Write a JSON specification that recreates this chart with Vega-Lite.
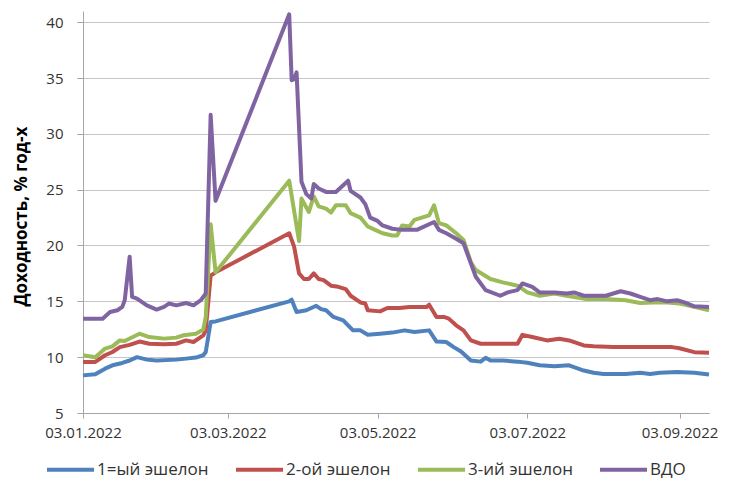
{
  "$schema": "https://vega.github.io/schema/vega-lite/v6.json",
  "width": 626,
  "height": 402,
  "autosize": {"type": "none"},
  "padding": {"left": 83, "top": 11, "right": 25, "bottom": 69},
  "background": "white",
  "config": {"font": "Open Sans", "view": {"stroke": null}},
  "data": {
    "format": {"parse": {"d": "date:'%Y-%m-%d'"}},
    "values": [
      {"s":"1=ый эшелон","d":"2022-01-03","v":8.37},
      {"s":"1=ый эшелон","d":"2022-01-08","v":8.47},
      {"s":"1=ый эшелон","d":"2022-01-12","v":8.97},
      {"s":"1=ый эшелон","d":"2022-01-15","v":9.27},
      {"s":"1=ый эшелон","d":"2022-01-19","v":9.48},
      {"s":"1=ый эшелон","d":"2022-01-22","v":9.7},
      {"s":"1=ый эшелон","d":"2022-01-25","v":10.0},
      {"s":"1=ый эшелон","d":"2022-01-29","v":9.78},
      {"s":"1=ый эшелон","d":"2022-02-02","v":9.7},
      {"s":"1=ый эшелон","d":"2022-02-10","v":9.78},
      {"s":"1=ый эшелон","d":"2022-02-14","v":9.87},
      {"s":"1=ый эшелон","d":"2022-02-18","v":9.96},
      {"s":"1=ый эшелон","d":"2022-02-21","v":10.17},
      {"s":"1=ый эшелон","d":"2022-02-22","v":10.46},
      {"s":"1=ый эшелон","d":"2022-02-24","v":13.15},
      {"s":"1=ый эшелон","d":"2022-02-26","v":13.2},
      {"s":"1=ый эшелон","d":"2022-03-28","v":15.0},
      {"s":"1=ый эшелон","d":"2022-03-29","v":15.15},
      {"s":"1=ый эшелон","d":"2022-03-31","v":14.05},
      {"s":"1=ый эшелон","d":"2022-04-04","v":14.2},
      {"s":"1=ый эшелон","d":"2022-04-08","v":14.6},
      {"s":"1=ый эшелон","d":"2022-04-10","v":14.3},
      {"s":"1=ый эшелон","d":"2022-04-12","v":14.2},
      {"s":"1=ый эшелон","d":"2022-04-15","v":13.6},
      {"s":"1=ый эшелон","d":"2022-04-19","v":13.3},
      {"s":"1=ый эшелон","d":"2022-04-23","v":12.4},
      {"s":"1=ый эшелон","d":"2022-04-26","v":12.4},
      {"s":"1=ый эшелон","d":"2022-04-29","v":12.0},
      {"s":"1=ый эшелон","d":"2022-05-04","v":12.1},
      {"s":"1=ый эшелон","d":"2022-05-09","v":12.2},
      {"s":"1=ый эшелон","d":"2022-05-14","v":12.4},
      {"s":"1=ый эшелон","d":"2022-05-18","v":12.25},
      {"s":"1=ый эшелон","d":"2022-05-24","v":12.4},
      {"s":"1=ый эшелон","d":"2022-05-27","v":11.4},
      {"s":"1=ый эшелон","d":"2022-05-31","v":11.35},
      {"s":"1=ый эшелон","d":"2022-06-01","v":11.2},
      {"s":"1=ый эшелон","d":"2022-06-03","v":10.9},
      {"s":"1=ый эшелон","d":"2022-06-06","v":10.5},
      {"s":"1=ый эшелон","d":"2022-06-10","v":9.7},
      {"s":"1=ый эшелон","d":"2022-06-14","v":9.6},
      {"s":"1=ый эшелон","d":"2022-06-16","v":9.95},
      {"s":"1=ый эшелон","d":"2022-06-18","v":9.7},
      {"s":"1=ый эшелон","d":"2022-06-23","v":9.7},
      {"s":"1=ый эшелон","d":"2022-06-29","v":9.6},
      {"s":"1=ый эшелон","d":"2022-07-03","v":9.5},
      {"s":"1=ый эшелон","d":"2022-07-08","v":9.27},
      {"s":"1=ый эшелон","d":"2022-07-14","v":9.18},
      {"s":"1=ый эшелон","d":"2022-07-20","v":9.27},
      {"s":"1=ый эшелон","d":"2022-07-22","v":9.1},
      {"s":"1=ый эшелон","d":"2022-07-26","v":8.8},
      {"s":"1=ый эшелон","d":"2022-07-30","v":8.6},
      {"s":"1=ый эшелон","d":"2022-08-03","v":8.5},
      {"s":"1=ый эшелон","d":"2022-08-12","v":8.5},
      {"s":"1=ый эшелон","d":"2022-08-18","v":8.6},
      {"s":"1=ый эшелон","d":"2022-08-22","v":8.5},
      {"s":"1=ый эшелон","d":"2022-08-26","v":8.6},
      {"s":"1=ый эшелон","d":"2022-09-02","v":8.67},
      {"s":"1=ый эшелон","d":"2022-09-09","v":8.6},
      {"s":"1=ый эшелон","d":"2022-09-15","v":8.45},

      {"s":"2-ой эшелон","d":"2022-01-03","v":9.57},
      {"s":"2-ой эшелон","d":"2022-01-08","v":9.57},
      {"s":"2-ой эшелон","d":"2022-01-12","v":10.17},
      {"s":"2-ой эшелон","d":"2022-01-15","v":10.46},
      {"s":"2-ой эшелон","d":"2022-01-18","v":10.9},
      {"s":"2-ой эшелон","d":"2022-01-22","v":11.1},
      {"s":"2-ой эшелон","d":"2022-01-26","v":11.4},
      {"s":"2-ой эшелон","d":"2022-01-30","v":11.2},
      {"s":"2-ой эшелон","d":"2022-02-05","v":11.15},
      {"s":"2-ой эшелон","d":"2022-02-10","v":11.2},
      {"s":"2-ой эшелон","d":"2022-02-14","v":11.5},
      {"s":"2-ой эшелон","d":"2022-02-17","v":11.36},
      {"s":"2-ой эшелон","d":"2022-02-21","v":11.96},
      {"s":"2-ой эшелон","d":"2022-02-22","v":12.4},
      {"s":"2-ой эшелон","d":"2022-02-24","v":17.3},
      {"s":"2-ой эшелон","d":"2022-02-26","v":17.6},
      {"s":"2-ой эшелон","d":"2022-03-28","v":21.1},
      {"s":"2-ой эшелон","d":"2022-03-30","v":19.9},
      {"s":"2-ой эшелон","d":"2022-04-01","v":17.5},
      {"s":"2-ой эшелон","d":"2022-04-03","v":17.0},
      {"s":"2-ой эшелон","d":"2022-04-05","v":17.0},
      {"s":"2-ой эшелон","d":"2022-04-07","v":17.5},
      {"s":"2-ой эшелон","d":"2022-04-09","v":17.0},
      {"s":"2-ой эшелон","d":"2022-04-11","v":16.9},
      {"s":"2-ой эшелон","d":"2022-04-14","v":16.4},
      {"s":"2-ой эшелон","d":"2022-04-17","v":16.3},
      {"s":"2-ой эшелон","d":"2022-04-20","v":16.1},
      {"s":"2-ой эшелон","d":"2022-04-22","v":15.5},
      {"s":"2-ой эшелон","d":"2022-04-26","v":14.9},
      {"s":"2-ой эшелон","d":"2022-04-28","v":14.8},
      {"s":"2-ой эшелон","d":"2022-04-29","v":14.2},
      {"s":"2-ой эшелон","d":"2022-05-04","v":14.1},
      {"s":"2-ой эшелон","d":"2022-05-07","v":14.4},
      {"s":"2-ой эшелон","d":"2022-05-12","v":14.4},
      {"s":"2-ой эшелон","d":"2022-05-16","v":14.5},
      {"s":"2-ой эшелон","d":"2022-05-23","v":14.5},
      {"s":"2-ой эшелон","d":"2022-05-24","v":14.7},
      {"s":"2-ой эшелон","d":"2022-05-27","v":13.6},
      {"s":"2-ой эшелон","d":"2022-05-30","v":13.6},
      {"s":"2-ой эшелон","d":"2022-06-01","v":13.45},
      {"s":"2-ой эшелон","d":"2022-06-04","v":12.85},
      {"s":"2-ой эшелон","d":"2022-06-07","v":12.4},
      {"s":"2-ой эшелон","d":"2022-06-10","v":11.5},
      {"s":"2-ой эшелон","d":"2022-06-14","v":11.2},
      {"s":"2-ой эшелон","d":"2022-06-22","v":11.2},
      {"s":"2-ой эшелон","d":"2022-06-29","v":11.2},
      {"s":"2-ой эшелон","d":"2022-07-01","v":12.0},
      {"s":"2-ой эшелон","d":"2022-07-05","v":11.8},
      {"s":"2-ой эшелон","d":"2022-07-11","v":11.5},
      {"s":"2-ой эшелон","d":"2022-07-16","v":11.65},
      {"s":"2-ой эшелон","d":"2022-07-20","v":11.5},
      {"s":"2-ой эшелон","d":"2022-07-26","v":11.05},
      {"s":"2-ой эшелон","d":"2022-07-30","v":10.97},
      {"s":"2-ой эшелон","d":"2022-08-07","v":10.9},
      {"s":"2-ой эшелон","d":"2022-08-31","v":10.9},
      {"s":"2-ой эшелон","d":"2022-09-03","v":10.8},
      {"s":"2-ой эшелон","d":"2022-09-09","v":10.45},
      {"s":"2-ой эшелон","d":"2022-09-15","v":10.4},

      {"s":"3-ий эшелон","d":"2022-01-03","v":10.17},
      {"s":"3-ий эшелон","d":"2022-01-08","v":10.0},
      {"s":"3-ий эшелон","d":"2022-01-12","v":10.77},
      {"s":"3-ий эшелон","d":"2022-01-15","v":10.97},
      {"s":"3-ий эшелон","d":"2022-01-18","v":11.5},
      {"s":"3-ий эшелон","d":"2022-01-20","v":11.45},
      {"s":"3-ий эшелон","d":"2022-01-26","v":12.1},
      {"s":"3-ий эшелон","d":"2022-01-30","v":11.8},
      {"s":"3-ий эшелон","d":"2022-02-05","v":11.66},
      {"s":"3-ий эшелон","d":"2022-02-10","v":11.75},
      {"s":"3-ий эшелон","d":"2022-02-13","v":11.96},
      {"s":"3-ий эшелон","d":"2022-02-18","v":12.1},
      {"s":"3-ий эшелон","d":"2022-02-21","v":12.47},
      {"s":"3-ий эшелон","d":"2022-02-22","v":13.6},
      {"s":"3-ий эшелон","d":"2022-02-24","v":21.9},
      {"s":"3-ий эшелон","d":"2022-02-26","v":17.6},
      {"s":"3-ий эшелон","d":"2022-03-28","v":25.8},
      {"s":"3-ий эшелон","d":"2022-04-01","v":20.4},
      {"s":"3-ий эшелон","d":"2022-04-02","v":24.2},
      {"s":"3-ий эшелон","d":"2022-04-05","v":23.0},
      {"s":"3-ий эшелон","d":"2022-04-07","v":24.4},
      {"s":"3-ий эшелон","d":"2022-04-09","v":23.5},
      {"s":"3-ий эшелон","d":"2022-04-12","v":23.3},
      {"s":"3-ий эшелон","d":"2022-04-14","v":22.95},
      {"s":"3-ий эшелон","d":"2022-04-16","v":23.6},
      {"s":"3-ий эшелон","d":"2022-04-20","v":23.6},
      {"s":"3-ий эшелон","d":"2022-04-22","v":22.9},
      {"s":"3-ий эшелон","d":"2022-04-26","v":22.5},
      {"s":"3-ий эшелон","d":"2022-04-29","v":21.7},
      {"s":"3-ий эшелон","d":"2022-05-02","v":21.4},
      {"s":"3-ий эшелон","d":"2022-05-05","v":21.1},
      {"s":"3-ий эшелон","d":"2022-05-09","v":20.9},
      {"s":"3-ий эшелон","d":"2022-05-11","v":20.9},
      {"s":"3-ий эшелон","d":"2022-05-13","v":21.8},
      {"s":"3-ий эшелон","d":"2022-05-16","v":21.7},
      {"s":"3-ий эшелон","d":"2022-05-18","v":22.3},
      {"s":"3-ий эшелон","d":"2022-05-21","v":22.5},
      {"s":"3-ий эшелон","d":"2022-05-24","v":22.7},
      {"s":"3-ий эшелон","d":"2022-05-26","v":23.6},
      {"s":"3-ий эшелон","d":"2022-05-28","v":22.0},
      {"s":"3-ий эшелон","d":"2022-05-31","v":21.8},
      {"s":"3-ий эшелон","d":"2022-06-04","v":21.1},
      {"s":"3-ий эшелон","d":"2022-06-07","v":20.5},
      {"s":"3-ий эшелон","d":"2022-06-10","v":18.5},
      {"s":"3-ий эшелон","d":"2022-06-12","v":17.8},
      {"s":"3-ий эшелон","d":"2022-06-18","v":17.0},
      {"s":"3-ий эшелон","d":"2022-06-23","v":16.7},
      {"s":"3-ий эшелон","d":"2022-06-29","v":16.4},
      {"s":"3-ий эшелон","d":"2022-07-03","v":15.8},
      {"s":"3-ий эшелон","d":"2022-07-08","v":15.5},
      {"s":"3-ий эшелон","d":"2022-07-14","v":15.7},
      {"s":"3-ий эшелон","d":"2022-07-19","v":15.5},
      {"s":"3-ий эшелон","d":"2022-07-27","v":15.2},
      {"s":"3-ий эшелон","d":"2022-08-04","v":15.2},
      {"s":"3-ий эшелон","d":"2022-08-12","v":15.1},
      {"s":"3-ий эшелон","d":"2022-08-18","v":14.85},
      {"s":"3-ий эшелон","d":"2022-08-23","v":14.9},
      {"s":"3-ий эшелон","d":"2022-08-29","v":14.9},
      {"s":"3-ий эшелон","d":"2022-09-03","v":14.8},
      {"s":"3-ий эшелон","d":"2022-09-09","v":14.5},
      {"s":"3-ий эшелон","d":"2022-09-15","v":14.2},

      {"s":"ВДО","d":"2022-01-03","v":13.45},
      {"s":"ВДО","d":"2022-01-11","v":13.45},
      {"s":"ВДО","d":"2022-01-14","v":14.04},
      {"s":"ВДО","d":"2022-01-17","v":14.2},
      {"s":"ВДО","d":"2022-01-19","v":14.5},
      {"s":"ВДО","d":"2022-01-20","v":15.1},
      {"s":"ВДО","d":"2022-01-22","v":19.0},
      {"s":"ВДО","d":"2022-01-23","v":15.4},
      {"s":"ВДО","d":"2022-01-25","v":15.24},
      {"s":"ВДО","d":"2022-01-29","v":14.64},
      {"s":"ВДО","d":"2022-02-02","v":14.26},
      {"s":"ВДО","d":"2022-02-05","v":14.5},
      {"s":"ВДО","d":"2022-02-07","v":14.8},
      {"s":"ВДО","d":"2022-02-10","v":14.64},
      {"s":"ВДО","d":"2022-02-14","v":14.85},
      {"s":"ВДО","d":"2022-02-17","v":14.64},
      {"s":"ВДО","d":"2022-02-20","v":15.1},
      {"s":"ВДО","d":"2022-02-22","v":15.7},
      {"s":"ВДО","d":"2022-02-24","v":31.7},
      {"s":"ВДО","d":"2022-02-26","v":24.0},
      {"s":"ВДО","d":"2022-03-28","v":40.7},
      {"s":"ВДО","d":"2022-03-29","v":34.8},
      {"s":"ВДО","d":"2022-03-30","v":34.9},
      {"s":"ВДО","d":"2022-03-31","v":35.5},
      {"s":"ВДО","d":"2022-04-02","v":25.7},
      {"s":"ВДО","d":"2022-04-04","v":24.6},
      {"s":"ВДО","d":"2022-04-06","v":24.2},
      {"s":"ВДО","d":"2022-04-07","v":25.5},
      {"s":"ВДО","d":"2022-04-09","v":25.1},
      {"s":"ВДО","d":"2022-04-12","v":24.8},
      {"s":"ВДО","d":"2022-04-16","v":24.8},
      {"s":"ВДО","d":"2022-04-18","v":25.2},
      {"s":"ВДО","d":"2022-04-21","v":25.8},
      {"s":"ВДО","d":"2022-04-22","v":24.9},
      {"s":"ВДО","d":"2022-04-26","v":24.3},
      {"s":"ВДО","d":"2022-04-28","v":23.7},
      {"s":"ВДО","d":"2022-04-30","v":22.5},
      {"s":"ВДО","d":"2022-05-03","v":22.2},
      {"s":"ВДО","d":"2022-05-05","v":21.8},
      {"s":"ВДО","d":"2022-05-09","v":21.5},
      {"s":"ВДО","d":"2022-05-13","v":21.4},
      {"s":"ВДО","d":"2022-05-19","v":21.4},
      {"s":"ВДО","d":"2022-05-26","v":22.1},
      {"s":"ВДО","d":"2022-05-28","v":21.4},
      {"s":"ВДО","d":"2022-05-31","v":21.1},
      {"s":"ВДО","d":"2022-06-04","v":20.6},
      {"s":"ВДО","d":"2022-06-07","v":20.2},
      {"s":"ВДО","d":"2022-06-10","v":18.4},
      {"s":"ВДО","d":"2022-06-12","v":17.2},
      {"s":"ВДО","d":"2022-06-16","v":16.0},
      {"s":"ВДО","d":"2022-06-22","v":15.5},
      {"s":"ВДО","d":"2022-06-25","v":15.8},
      {"s":"ВДО","d":"2022-06-29","v":16.0},
      {"s":"ВДО","d":"2022-07-01","v":16.6},
      {"s":"ВДО","d":"2022-07-05","v":16.3},
      {"s":"ВДО","d":"2022-07-08","v":15.8},
      {"s":"ВДО","d":"2022-07-14","v":15.8},
      {"s":"ВДО","d":"2022-07-19","v":15.7},
      {"s":"ВДО","d":"2022-07-22","v":15.8},
      {"s":"ВДО","d":"2022-07-26","v":15.5},
      {"s":"ВДО","d":"2022-08-04","v":15.5},
      {"s":"ВДО","d":"2022-08-10","v":15.9},
      {"s":"ВДО","d":"2022-08-14","v":15.7},
      {"s":"ВДО","d":"2022-08-18","v":15.4},
      {"s":"ВДО","d":"2022-08-22","v":15.1},
      {"s":"ВДО","d":"2022-08-25","v":15.2},
      {"s":"ВДО","d":"2022-08-29","v":15.0},
      {"s":"ВДО","d":"2022-09-02","v":15.1},
      {"s":"ВДО","d":"2022-09-05","v":14.9},
      {"s":"ВДО","d":"2022-09-09","v":14.55},
      {"s":"ВДО","d":"2022-09-15","v":14.5}
    ]
  },
  "mark": {"type": "line", "strokeWidth": 4, "strokeJoin": "round"},
  "encoding": {
    "x": {
      "field": "d",
      "type": "temporal",
      "scale": {"domain": [{"year": 2022, "month": 1, "date": 3}, {"year": 2022, "month": 9, "date": 15}]},
      "axis": {
        "values": [
          {"year": 2022, "month": 1, "date": 3},
          {"year": 2022, "month": 3, "date": 3},
          {"year": 2022, "month": 5, "date": 3},
          {"year": 2022, "month": 7, "date": 3},
          {"year": 2022, "month": 9, "date": 3}
        ],
        "format": "%d.%m.%Y",
        "formatType": "time",
        "title": null,
        "grid": false,
        "labelFontSize": 15,
        "labelColor": "#333333",
        "labelFlush": false,
        "labelOverlap": false,
        "labelPadding": 7,
        "tickSize": 5,
        "tickColor": "#a6a6a6",
        "domainColor": "#a6a6a6"
      }
    },
    "y": {
      "field": "v",
      "type": "quantitative",
      "scale": {"domain": [5, 41], "nice": false, "zero": false},
      "axis": {
        "values": [5, 10, 15, 20, 25, 30, 35, 40],
        "title": "Доходность, % год-х",
        "titleFontSize": 17,
        "titleFontWeight": "bold",
        "titleColor": "#000000",
        "titleX": -62,
        "titleY": 205,
        "titleAngle": 270,
        "titleAlign": "center",
        "titleBaseline": "middle",
        "labelFontSize": 15,
        "labelColor": "#333333",
        "labelPadding": 14,
        "tickSize": 6,
        "tickColor": "#a6a6a6",
        "domainColor": "#a6a6a6",
        "gridColor": "#c6c6c6"
      }
    },
    "color": {
      "field": "s",
      "type": "nominal",
      "scale": {
        "domain": ["1=ый эшелон", "2-ой эшелон", "3-ий эшелон", "ВДО"],
        "range": ["#4F81BD", "#C0504D", "#9BBB59", "#8064A2"]
      },
      "legend": {
        "orient": "none",
        "legendX": -38,
        "legendY": 433,
        "direction": "horizontal",
        "title": null,
        "symbolType": "stroke",
        "symbolSize": 2209,
        "symbolStrokeWidth": 4,
        "labelFontSize": 17,
        "labelColor": "#333333",
        "labelOffset": 1,
        "columnPadding": 19
      }
    }
  }
}
